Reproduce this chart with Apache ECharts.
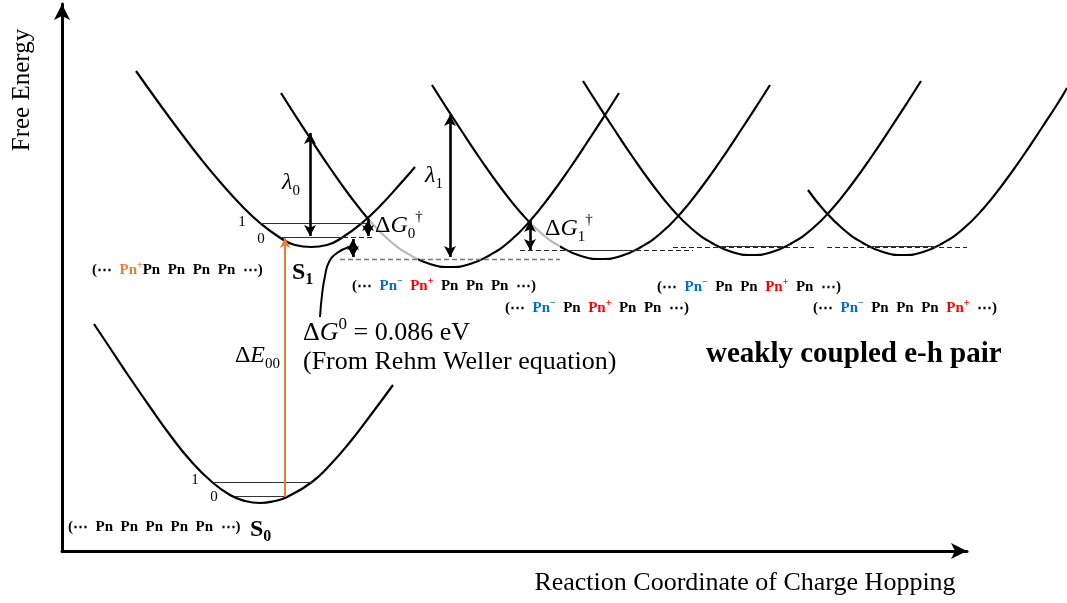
<!DOCTYPE html>
<html><head><meta charset="utf-8">
<script src="https://cdn.jsdelivr.net/npm/echarts@6/dist/echarts.min.js"></script>
<style>html,body{margin:0;padding:0;background:#fff}#c{width:1067px;height:603px}</style>
</head><body><div id="c"></div>
<script>
const F = "'Liberation Serif','Times New Roman',serif";

// Potential-energy curves: reaction coordinate (x) and free energy (E)
const s0X = [94,110,130,150,170,190,212,230,245,260,275,287,312,330,350,370,393];
const s0E = [227,203,173,144,116,91,69,56,50,48,50,54,69,86,109,135,166];
const s1X = [136,161,181,201,221,241,260,279,295,311,327,343,362,381,401,415];
const s1E = [480,445,418,392,368,346,328,314,306,304,306,314,328,346,368,384];
const ct1X = [281,295,310,330,350,370,390,410,430,450,470,490,510,530,550,570,590,605,619];
const ct1E = [458,436,413,383,355,330,310,296,287,284,287,296,310,330,355,383,413,436,458];
const ct2X = [432,446,461,481,501,521,541,561,581,601,621,641,661,681,701,721,741,756,770];
const ct2E = [466,444,421,391,363,338,318,304,295,292,295,304,318,338,363,391,421,444,466];
const ct3X = [583,597,612,632,652,672,692,712,732,752,772,792,812,832,852,872,892,907,921];
const ct3E = [470,448,425,395,367,342,322,308,299,296,299,308,322,342,367,395,425,448,470];
const ct4X = [808,823,843,863,883,903,923,943,963,983,1003,1023,1043,1058,1067];
const ct4E = [361,342,322,308,299,296,299,308,322,342,367,395,425,448,463];
const linkX = [349,337,329,325,322,320];
const linkE = [304,298,289,275,256,234];

// vibrational levels [x1, x2, E]
const levelsSolid = [[260,366,328],[280,343,314],[212,312,69],[235,287,55],[566,636,301],[720,783,305],[872,934,305]];
const levelsDashed = [[343,373,314],[520,566,301],[636,693,301],[673,817,304],[827,967,304]];
const levelGray = [[340,560,292]];
// double arrows [x, E1, E2]
const arrows = [[310,418,315],[450,436,294],[368,331,315],[353,312,294],[530,330,301]];
const excitation = [285,54,313];

// state labels
const states = [
  {x:92, e:281, t:'(⋯  {o|Pn}{os|+}Pn  Pn  Pn  Pn  ⋯)'},
  {x:68, e:24,  t:'(⋯  Pn  Pn  Pn  Pn  Pn  ⋯)'},
  {x:352, e:265, t:'(⋯  {b|Pn}{bs|−}  {r|Pn}{rs|+}  Pn  Pn  Pn  ⋯)'},
  {x:505, e:243, t:'(⋯  {b|Pn}{bs|−}  Pn  {r|Pn}{rs|+}  Pn  Pn  ⋯)'},
  {x:657, e:264, t:'(⋯  {b|Pn}{bs|−}  Pn  Pn  {r|Pn}{rs|+}  Pn  ⋯)'},
  {x:813, e:243, t:'(⋯  {b|Pn}{bs|−}  Pn  Pn  Pn  {r|Pn}{rs|+}  ⋯)'}
];

const zip = (xs, es) => xs.map((x, i) => [x, es[i]]);
function curve(name, xs, es, w, useVisual) {
  const ls = {width: w || 2.2};
  if (!useVisual) ls.color = '#000';
  return {type:'line', name, data: zip(xs, es), smooth: true, symbol:'none', clip:false, silent:true,
    itemStyle:{color:'#000'}, lineStyle: ls, z:3};
}
function seg(p, q, style, a, b, size) {
  const sz = size || [9, 11];
  return [{coord:p, symbol:a || 'none', symbolSize:sz, lineStyle:style},
          {coord:q, symbol:b || 'none', symbolSize:sz, lineStyle:style}];
}
const ml = [];
levelsSolid.forEach(l => ml.push(seg([l[0], l[2]], [l[1], l[2]], {color:'#333', width:1.2, type:'solid'})));
levelsDashed.forEach(l => ml.push(seg([l[0], l[2]], [l[1], l[2]], {color:'#222', width:1.2, type:[5,3]})));
levelGray.forEach(l => ml.push(seg([l[0], l[2]], [l[1], l[2]], {color:'#777', width:1.4, type:[5,3]})));
arrows.forEach(a => ml.push(seg([a[0], a[1]], [a[0], a[2]], {color:'#000', width:2.6, type:'solid'}, 'arrow', 'arrow')));
ml.push(seg([excitation[0], excitation[1]], [excitation[0], excitation[2]], {color:'#ED7D31', width:2, type:'solid'}, 'none', 'arrow', [8, 10]));

const richMath = {
  d:{fontFamily:F, fontSize:24, lineHeight:32, color:'#000'},
  i:{fontFamily:F, fontSize:24, fontStyle:'italic', lineHeight:32, color:'#000'},
  sb:{fontFamily:F, fontSize:15, lineHeight:14, verticalAlign:'bottom', color:'#000'},
  sp:{fontFamily:F, fontSize:15, lineHeight:14, verticalAlign:'top', color:'#000'},
  D:{fontFamily:F, fontSize:26, lineHeight:34, color:'#000'},
  I:{fontFamily:F, fontSize:26, fontStyle:'italic', lineHeight:34, color:'#000'},
  SP:{fontFamily:F, fontSize:17, lineHeight:16, verticalAlign:'top', color:'#000'},
  B:{fontFamily:F, fontSize:24, fontWeight:'bold', lineHeight:30, color:'#000'},
  BS:{fontFamily:F, fontSize:16, fontWeight:'bold', lineHeight:14, verticalAlign:'bottom', color:'#000'}
};
const stTok = (c) => ({color:c, fontFamily:F, fontWeight:'bold', fontSize:15, lineHeight:20});
const stSup = (c) => ({color:c, fontFamily:F, fontWeight:'bold', fontSize:10, lineHeight:10, verticalAlign:'top'});
const richState = {b:stTok('#0070C0'), bs:stSup('#0070C0'), r:stTok('#FF0000'), rs:stSup('#FF0000'), o:stTok('#ED7D31'), os:stSup('#ED7D31')};

function txt(x, e, formatter, opts) {
  return {value:[x, e], label: Object.assign({show:true, formatter, position:'right', distance:0,
    color:'#000', fontFamily:F, rich: richMath}, opts || {})};
}
const texts = [
  txt(282, 368, '{i|λ}{sb|0}'),
  txt(425, 375, '{i|λ}{sb|1}'),
  txt(375, 325, '{d|Δ}{i|G}{sb|0}{sp|†}'),
  txt(545, 322, '{d|Δ}{i|G}{sb|1}{sp|†}'),
  txt(280, 195, '{d|Δ}{i|E}{sb|00}', {position:'left'}),
  txt(303, 218, '{D|Δ}{I|G}{SP|0}{D| = 0.086 eV}'),
  txt(303, 189, '(From Rehm Weller equation)', {fontSize:26}),
  txt(706, 196, 'weakly coupled e-h pair', {fontSize:29, fontWeight:'bold'}),
  txt(292, 278, '{B|S}{BS|1}'),
  txt(250, 21, '{B|S}{BS|0}'),
  txt(242, 329, '1', {position:'inside', fontSize:15}),
  txt(261, 312, '0', {position:'inside', fontSize:15}),
  txt(195, 71, '1', {position:'inside', fontSize:15}),
  txt(214, 54, '0', {position:'inside', fontSize:15})
];
states.forEach(s => texts.push(txt(s.x, s.e, s.t, {fontSize:15, fontWeight:'bold', lineHeight:20, rich: richState})));

const hiddenAxis = {axisLine:{show:false}, axisTick:{show:false}, axisLabel:{show:false}, splitLine:{show:false}};
const arrowLine = {show:true, onZero:false, symbol:['none','arrow'], symbolSize:[12,16], lineStyle:{color:'#000', width:3}};

const chart = echarts.init(document.getElementById('c'), null, {renderer:'canvas'});
chart.setOption({
  animation:false,
  backgroundColor:'#fff',
  grid:[
    {left:62, right:0, top:12, bottom:52},
    {left:62, right:100, top:4, bottom:52}
  ],
  xAxis:[
    Object.assign({type:'value', gridIndex:0, min:62, max:1067}, hiddenAxis),
    {type:'value', gridIndex:1, min:0, max:1, axisLine:arrowLine, axisTick:{show:false}, axisLabel:{show:false}, splitLine:{show:false}}
  ],
  yAxis:[
    Object.assign({type:'value', gridIndex:0, min:0, max:539}, hiddenAxis),
    {type:'value', gridIndex:1, min:0, max:1, axisLine:arrowLine, axisTick:{show:false}, axisLabel:{show:false}, splitLine:{show:false}}
  ],
  visualMap:[
    {type:'piecewise', show:false, seriesIndex:2, dimension:0,
      pieces:[{lt:370, color:'#000'},{gte:370, lte:418, color:'#b8b8b8'},{gt:418, color:'#000'}]},
    {type:'piecewise', show:false, seriesIndex:3, dimension:0,
      pieces:[{lt:531, color:'#000'},{gte:531, lte:560, color:'#b8b8b8'},{gt:560, color:'#000'}]}
  ],
  graphic:[
    {type:'text', x:22, y:90, rotation:Math.PI/2, style:{text:'Free Energy', font:'25px ' + F, fill:'#000', align:'center', verticalAlign:'middle'}},
    {type:'text', x:745, y:583, style:{text:'Reaction Coordinate of Charge Hopping', font:'26px ' + F, fill:'#000', align:'center', verticalAlign:'middle'}}
  ],
  series:[
    Object.assign(curve('S0', s0X, s0E), {markLine:{silent:true, animation:false, label:{show:false}, emphasis:{disabled:true}, data: ml}}),
    curve('S1', s1X, s1E),
    curve('CT1', ct1X, ct1E, 2.2, true),
    curve('CT2', ct2X, ct2E, 2.2, true),
    curve('CT3', ct3X, ct3E),
    curve('CT4', ct4X, ct4E),
    curve('link', linkX, linkE, 2),
    {type:'scatter', symbolSize:0, silent:true, clip:false, z:10, itemStyle:{opacity:1}, data: texts}
  ]
});
</script></body></html>
